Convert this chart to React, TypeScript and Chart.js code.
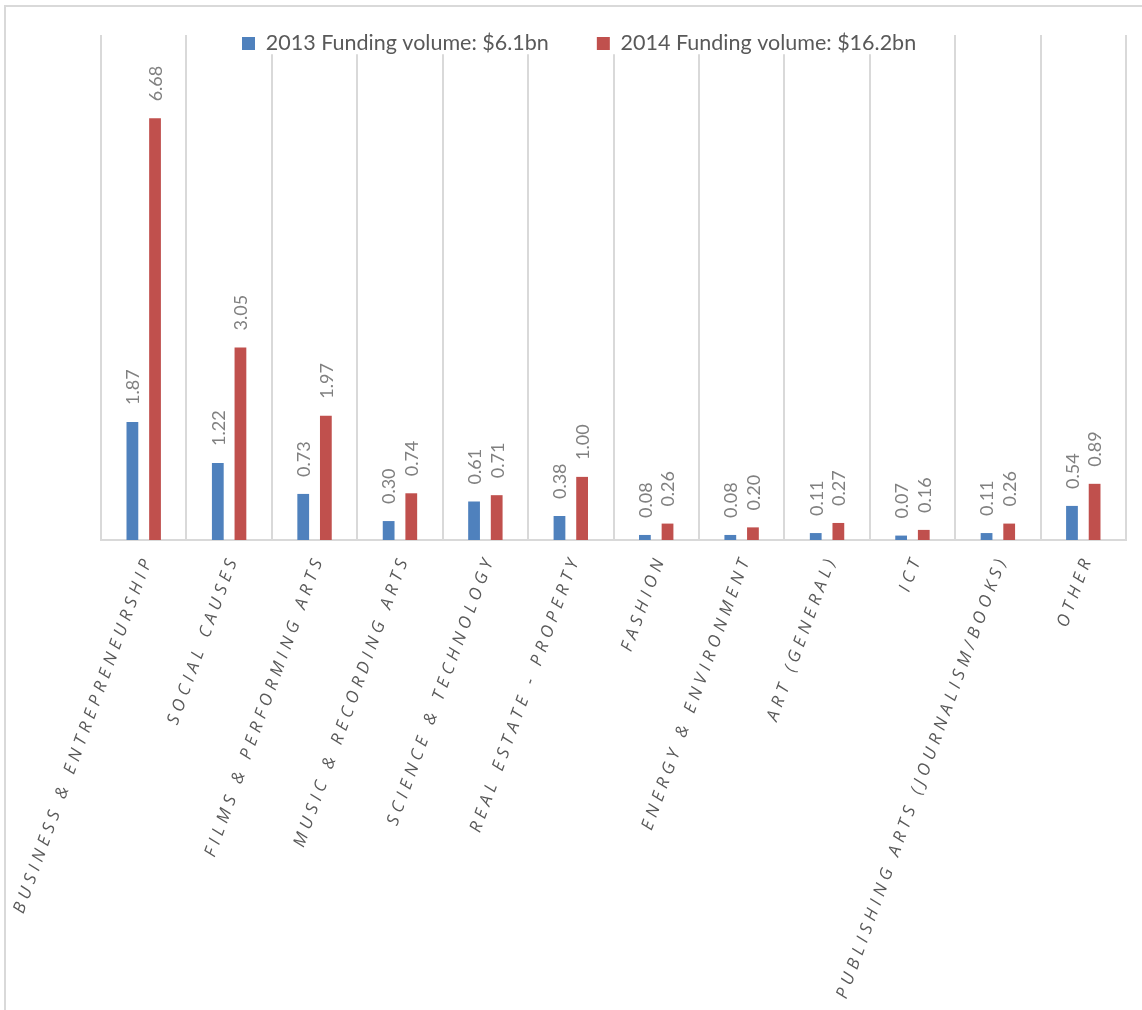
import React, { useEffect, useRef } from 'react';
import { Chart, registerables } from 'chart.js';

Chart.register(...registerables);

const categories = [
  'BUSINESS & ENTREPRENEURSHIP',
  'SOCIAL CAUSES',
  'FILMS & PERFORMING ARTS',
  'MUSIC & RECORDING ARTS',
  'SCIENCE & TECHNOLOGY',
  'REAL ESTATE - PROPERTY',
  'FASHION',
  'ENERGY & ENVIRONMENT',
  'ART (GENERAL)',
  'ICT',
  'PUBLISHING ARTS (JOURNALISM/BOOKS)',
  'OTHER',
];

const series2013Label = '2013 Funding volume: $6.1bn';
const series2014Label = '2014 Funding volume: $16.2bn';

const values2013 = [1.87, 1.22, 0.73, 0.3, 0.61, 0.38, 0.08, 0.08, 0.11, 0.07, 0.11, 0.54];
const values2014 = [6.68, 3.05, 1.97, 0.74, 0.71, 1.0, 0.26, 0.2, 0.27, 0.16, 0.26, 0.89];

const yMin = 0;
const yMax = 8;

const LEGEND_FONT_SIZE = 21.5;
const LEGEND_BOX_LEFT = 242;
const LEGEND_BOX_TOP = 37;
const LEGEND_BOX = 13;

const legendOverlay = {
  id: 'legendOverlay',
  afterInit(chart: any) {
    const lg: any = chart.legend;
    if (!lg || lg._patched) return;
    lg._patched = true;
    const origFit = lg.fit;
    lg.fit = function () {
      origFit.call(this);
      this.height = 0;
    };
    lg.draw = function () {
      if (!this.options.display) return;
      const ctx = this.ctx;
      const pad = this.options.labels.padding;
      const lw = this.lineWidths && this.lineWidths[0] ? this.lineWidths[0] : 0;
      const xs = (this.left + pad + this.right - lw) / 2;
      const ys = this.top + pad;
      const boxTopOffset = Math.max((LEGEND_FONT_SIZE - LEGEND_BOX) / 2, 0);
      const dx = LEGEND_BOX_LEFT - xs;
      const dy = LEGEND_BOX_TOP - boxTopOffset - ys;
      ctx.save();
      ctx.translate(dx, dy);
      ctx.fillStyle = '#ffffff';
      ctx.fillRect(xs - 4, ys, lw - pad + 8, LEGEND_FONT_SIZE);
      this._draw();
      ctx.restore();
    };
  },
};

const barLabels = {
  id: 'barLabels',
  afterDatasetsDraw(chart: any) {
    const ctx = chart.ctx;
    ctx.save();
    ctx.font = '18px Lato';
    ctx.fillStyle = '#808080';
    ctx.textAlign = 'left';
    ctx.textBaseline = 'middle';
    chart.data.datasets.forEach((ds: any, di: number) => {
      const meta = chart.getDatasetMeta(di);
      meta.data.forEach((el: any, i: number) => {
        const v = ds.data[i] as number;
        ctx.save();
        ctx.translate(el.x + 1, el.y - 17);
        ctx.rotate(-Math.PI / 2);
        ctx.fillText(v.toFixed(2), 0, 0);
        ctx.restore();
      });
    });
    ctx.restore();
    // letter spacing for the x tick labels, drawn in a later layer
    (ctx as any).letterSpacing = '5px';
  },
  afterDraw(chart: any) {
    (chart.ctx as any).letterSpacing = '0px';
  },
};

export default function App() {
  const ref = useRef<HTMLCanvasElement | null>(null);

  useEffect(() => {
    if (!ref.current) return;
    const chart = new Chart(ref.current, {
      type: 'bar',
      data: {
        labels: categories,
        datasets: [
          {
            label: series2013Label,
            data: values2013,
            backgroundColor: '#4f81bd',
            borderWidth: 0,
            categoryPercentage: 0.53,
            barPercentage: 0.52,
          },
          {
            label: series2014Label,
            data: values2014,
            backgroundColor: '#c0504d',
            borderWidth: 0,
            categoryPercentage: 0.53,
            barPercentage: 0.52,
          },
        ],
      },
      options: {
        responsive: false,
        maintainAspectRatio: false,
        animation: false,
        layout: { padding: { left: 101, right: 16, top: 35, bottom: 0 } },
        plugins: {
          legend: {
            display: true,
            position: 'top',
            labels: {
              boxWidth: LEGEND_BOX,
              boxHeight: LEGEND_BOX,
              padding: 48,
              color: '#595959',
              font: { family: 'Lato', size: LEGEND_FONT_SIZE },
            },
          },
          tooltip: { enabled: false },
        },
        scales: {
          x: {
            offset: true,
            grid: { display: true, offset: true, color: '#d9d9d9', lineWidth: 2, drawTicks: false },
            border: { display: true, color: '#d9d9d9', width: 2 },
            ticks: {
              autoSkip: false,
              minRotation: 70,
              maxRotation: 70,
              padding: 12,
              labelOffset: 5,
              color: '#595959',
              font: { family: 'Open Sans', size: 17, style: 'italic' },
              z: 1,
            },
            afterFit: (s: any) => {
              s.height = 470;
            },
          },
          y: {
            display: false,
            min: yMin,
            max: yMax,
          },
        },
      } as any,
      plugins: [legendOverlay, barLabels],
    });
    return () => chart.destroy();
  }, []);

  return (
    <div
      style={{
        position: 'absolute',
        left: 0,
        top: 0,
        width: 1142,
        height: 1010,
        overflow: 'hidden',
        background: '#ffffff',
      }}
    >
      <div
        style={{
          position: 'absolute',
          left: 4,
          top: 5,
          width: 1200,
          height: 1100,
          border: '2px solid #d9d9d9',
          boxSizing: 'border-box',
        }}
      />
      <canvas
        ref={ref}
        width={1142}
        height={1010}
        style={{ position: 'absolute', left: 0, top: 0, width: 1142, height: 1010 }}
      />
    </div>
  );
}
